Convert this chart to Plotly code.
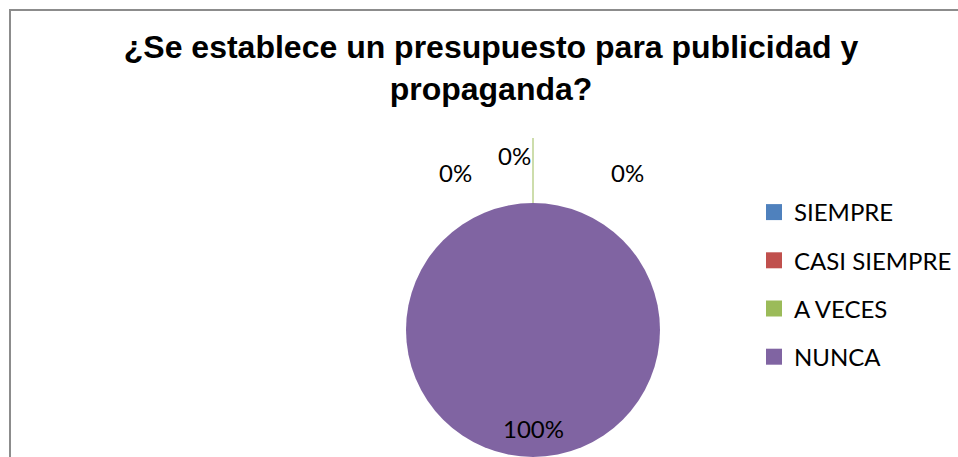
import plotly.graph_objects as go

W, H = 958, 457

categories = ["SIEMPRE", "CASI SIEMPRE", "A VECES", "NUNCA"]
values = [0, 0, 0, 100]
colors = ["#4F81BD", "#C0504D", "#9BBB59", "#8064A2"]
title_text = "<b>¿Se establece un presupuesto para publicidad y<br>propaganda?</b>"

total = sum(values)
pct_text = [f"{round(v / total * 100)}%" for v in values]

# label positions (pixels) for each category label
label_px = [(455, 172), (514, 155), (627, 172), (533, 428)]

def px(x, y):
    return x / W, 1 - y / H

cx, top, r = 533, 203, 127

fig = go.Figure()
fig.add_trace(go.Pie(
    labels=categories, values=values, sort=False, direction="clockwise",
    rotation=0, marker=dict(colors=colors, line=dict(width=0)),
    textinfo="none", showlegend=False,
    domain=dict(x=[(cx - r) / W, (cx + r) / W], y=[0, (H - top) / H]),
))

for name, col in zip(categories, colors):
    fig.add_trace(go.Scatter(
        x=[None], y=[None], mode="markers", name=name, legendgroup=name,
        marker=dict(symbol="square", size=16, color=col),
    ))

annotations = []
for t, (x, y) in zip(pct_text, label_px):
    ax, ay = px(x, y)
    annotations.append(dict(
        text=t, x=ax, y=ay, xref="paper", yref="paper", showarrow=False,
        xanchor="center", yanchor="middle",
        font=dict(family="Lato", size=24, color="#000000"),
    ))

gx, gy0 = px(cx, top)
_, gy1 = px(cx, 138)

fig.update_layout(
    width=W, height=H, margin=dict(l=0, r=0, t=0, b=0),
    paper_bgcolor="white", plot_bgcolor="white",
    title=dict(text=title_text, x=491 / W, xanchor="center", y=1 - 58 / H,
               yanchor="top", yref="paper",
               font=dict(family="Liberation Sans", size=32, color="#000000")),
    xaxis=dict(visible=False), yaxis=dict(visible=False),
    showlegend=True,
    legend=dict(x=754 / W, xanchor="left", y=1 - 190 / H, yanchor="top",
                font=dict(family="Lato", size=24, color="#000000"),
                tracegroupgap=14, itemsizing="trace", bgcolor="rgba(0,0,0,0)"),
    annotations=annotations,
    shapes=[
        dict(type="rect", xref="paper", yref="paper", x0=10 / W, x1=1.05,
             y0=-0.05, y1=1 - 10 / H, line=dict(color="#8c8c8c", width=2),
             layer="below"),
        dict(type="line", xref="paper", yref="paper", x0=gx, x1=gx,
             y0=gy0, y1=gy1, line=dict(color="#9BBB59", width=1)),
    ],
)

fig.write_html("out.html")
